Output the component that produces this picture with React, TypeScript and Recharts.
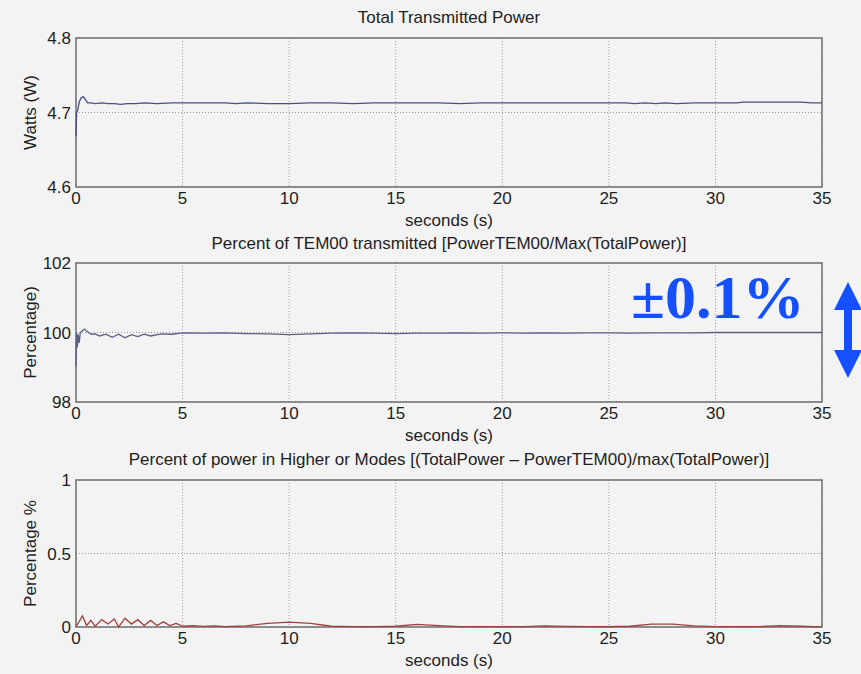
import React from 'react';
import { LineChart, Line, XAxis, YAxis, CartesianGrid, ReferenceArea } from 'recharts';

// time axis ticks shared by all three panels
const secondsTicks = [0, 5, 10, 15, 20, 25, 30, 35];

// Panel 1: total transmitted power (W)
const powerTime = [0, 0.03, 0.08, 0.15, 0.25, 0.35, 0.45, 0.55, 0.7, 0.9, 1.2, 1.5, 1.8, 2.1, 2.4, 2.8, 3.2, 3.8, 4.5, 5.2, 6, 7, 7.5, 8, 9, 10, 11, 12, 13, 14, 15, 16, 17, 18, 19, 20, 21, 22, 23, 24, 25, 25.8, 26.2, 26.7, 27.2, 27.6, 28.2, 29, 30, 31, 31.3, 32, 33, 34, 34.5, 35];
const powerWatts = [4.668, 4.7, 4.703, 4.714, 4.72, 4.721, 4.717, 4.713, 4.713, 4.712, 4.713, 4.712, 4.712, 4.711, 4.712, 4.712, 4.713, 4.712, 4.713, 4.713, 4.713, 4.713, 4.712, 4.713, 4.712, 4.712, 4.713, 4.713, 4.712, 4.713, 4.713, 4.713, 4.713, 4.712, 4.713, 4.713, 4.713, 4.713, 4.713, 4.713, 4.713, 4.713, 4.712, 4.713, 4.712, 4.713, 4.712, 4.713, 4.713, 4.713, 4.714, 4.714, 4.714, 4.714, 4.713, 4.713];
const powerTicks = [4.6, 4.7, 4.8];

// Panel 2: percent of TEM00 transmitted
const temTime = [0, 0.03, 0.06, 0.1, 0.15, 0.2, 0.3, 0.4, 0.5, 0.7, 0.9, 1.1, 1.4, 1.7, 2.0, 2.3, 2.6, 2.9, 3.2, 3.5, 4, 4.5, 5, 6, 7, 8, 9, 10, 11, 12, 13, 14, 15, 16, 17, 18, 19, 20, 21, 22, 23, 24, 25, 26, 27, 28, 29, 30, 31, 32, 33, 34, 35];
const temPercent = [99.03, 100.0, 99.57, 99.95, 99.7, 100.0, 100.05, 100.1, 100.04, 99.95, 99.96, 99.9, 99.95, 99.86, 99.95, 99.85, 99.94, 99.88, 99.95, 99.9, 99.96, 99.95, 99.99, 99.98, 99.99, 99.97, 99.96, 99.94, 99.96, 99.98, 99.99, 99.98, 99.97, 99.98, 99.98, 99.99, 99.98, 99.99, 99.98, 99.99, 99.98, 99.99, 99.99, 99.98, 99.99, 99.99, 99.99, 100.0, 100.0, 100.0, 100.0, 100.0, 100.0];
const temTicks = [98, 100, 102];

// Panel 3: percent of power in higher order modes
const modeTime = [0, 0.3, 0.5, 0.7, 0.9, 1.2, 1.5, 1.8, 2.0, 2.3, 2.6, 2.9, 3.2, 3.5, 3.8, 4.1, 4.4, 4.7, 5, 5.5, 6, 6.5, 7, 8, 9, 10, 11, 12, 13, 14, 15, 16, 17, 18, 19, 20, 21, 22, 23, 24, 25, 26, 27, 28, 29, 30, 31, 32, 33, 34, 35];
const modePercent = [0, 0.075, 0.01, 0.045, 0.005, 0.05, 0.02, 0.055, 0, 0.06, 0.02, 0.05, 0.01, 0.045, 0.01, 0.035, 0.01, 0.025, 0.005, 0.01, 0.004, 0.008, 0.003, 0.008, 0.025, 0.033, 0.025, 0.005, 0.002, 0.002, 0.005, 0.018, 0.01, 0.003, 0.002, 0.002, 0.003, 0.008, 0.004, 0.002, 0.002, 0.005, 0.02, 0.02, 0.008, 0.002, 0.002, 0.002, 0.01, 0.005, 0.001];
const modeTicks = [0, 0.5, 1];

const zip = (t: number[], v: number[]) => t.map((s, i) => ({ t: s, v: v[i] }));

const FONT = '"Liberation Sans", Arial, sans-serif';
const BG = '#f3f3f3';
const AXIS = '#707070';
const TEXT = '#1e1e1e';

interface PanelProps {
  plotTop: number;
  plotHeight: number;
  title: string;
  titleY: number;
  yLabel: string;
  data: { t: number; v: number }[];
  domain: [number, number];
  ticks: number[];
  color: string;
}

const Panel: React.FC<PanelProps> = ({ plotTop, plotHeight, title, titleY, yLabel, data, domain, ticks, color }) => {
  const topPad = 20;
  const height = topPad + plotHeight + 45;
  return (
    <>
      <div
        style={{
          position: 'absolute',
          left: 76,
          width: 746,
          top: titleY - 10,
          textAlign: 'center',
          fontFamily: FONT,
          fontSize: 17,
          lineHeight: '20px',
          color: TEXT,
          whiteSpace: 'nowrap',
        }}
      >
        {title}
      </div>
      <div style={{ position: 'absolute', left: 0, top: plotTop - topPad }}>
        <LineChart width={861} height={height} data={data} margin={{ top: topPad, right: 39, bottom: 5, left: 0 }}>
          <CartesianGrid stroke="#9a9a9a" strokeDasharray="1 2" />
          <ReferenceArea
            x1={0}
            x2={35}
            y1={domain[0]}
            y2={domain[1]}
            fill="none"
            stroke={AXIS}
            strokeWidth={1.5}
            ifOverflow="extendDomain"
          />
          <XAxis
            dataKey="t"
            type="number"
            domain={[0, 35]}
            ticks={secondsTicks}
            axisLine={false}
            tickLine={false}
            height={40}
            tickSize={4}
            tickMargin={1}
            tick={{ fill: TEXT, fontSize: 17, fontFamily: FONT }}
            label={{
              value: 'seconds (s)',
              position: 'insideBottom',
              offset: 1,
              style: { fill: TEXT, fontSize: 17, fontFamily: FONT },
            }}
          />
          <YAxis
            type="number"
            domain={domain}
            ticks={ticks}
            width={76}
            axisLine={false}
            tickLine={false}
            tickSize={4}
            tickMargin={1}
            tick={{ fill: TEXT, fontSize: 17, fontFamily: FONT }}
            label={{
              value: yLabel,
              angle: -90,
              position: 'insideLeft',
              offset: 30,
              style: { fill: TEXT, fontSize: 17, fontFamily: FONT, textAnchor: 'middle' },
            }}
          />
          <Line
            type="linear"
            dataKey="v"
            stroke={color}
            strokeWidth={1.3}
            dot={false}
            isAnimationActive={false}
          />
        </LineChart>
      </div>
    </>
  );
};

export default function App() {
  return (
    <div
      style={{
        position: 'absolute',
        left: 0,
        top: 0,
        width: 861,
        height: 674,
        background: BG,
        overflow: 'hidden',
      }}
    >
      <Panel
        plotTop={38}
        plotHeight={149}
        title="Total Transmitted Power"
        titleY={18}
        yLabel="Watts (W)"
        data={zip(powerTime, powerWatts)}
        domain={[4.6, 4.8]}
        ticks={powerTicks}
        color="#4b5080"
      />
      <Panel
        plotTop={263}
        plotHeight={139}
        title="Percent of TEM00 transmitted [PowerTEM00/Max(TotalPower)]"
        titleY={244}
        yLabel="Percentage)"
        data={zip(temTime, temPercent)}
        domain={[98, 102]}
        ticks={temTicks}
        color="#5a5e85"
      />
      <Panel
        plotTop={480}
        plotHeight={147}
        title="Percent of power in Higher or Modes [(TotalPower – PowerTEM00)/max(TotalPower)]"
        titleY={460}
        yLabel="Percentage %"
        data={zip(modeTime, modePercent)}
        domain={[0, 1]}
        ticks={modeTicks}
        color="#a2403c"
      />
      {/* annotation on the middle panel */}
      <div
        style={{
          position: 'absolute',
          left: 631,
          top: 262,
          fontFamily: '"Liberation Serif", "Times New Roman", serif',
          fontWeight: 'bold',
          fontSize: 62,
          lineHeight: '70px',
          color: '#1450ff',
          whiteSpace: 'nowrap',
        }}
      >
        ±0.1%
      </div>
      <svg style={{ position: 'absolute', left: 826, top: 276 }} width={40} height={108}>
        <polygon points="22,6 36,34 8,34" fill="#1450ff" />
        <rect x={18} y={32} width={8} height={44} fill="#1450ff" />
        <polygon points="22,102 36,74 8,74" fill="#1450ff" />
      </svg>
    </div>
  );
}
